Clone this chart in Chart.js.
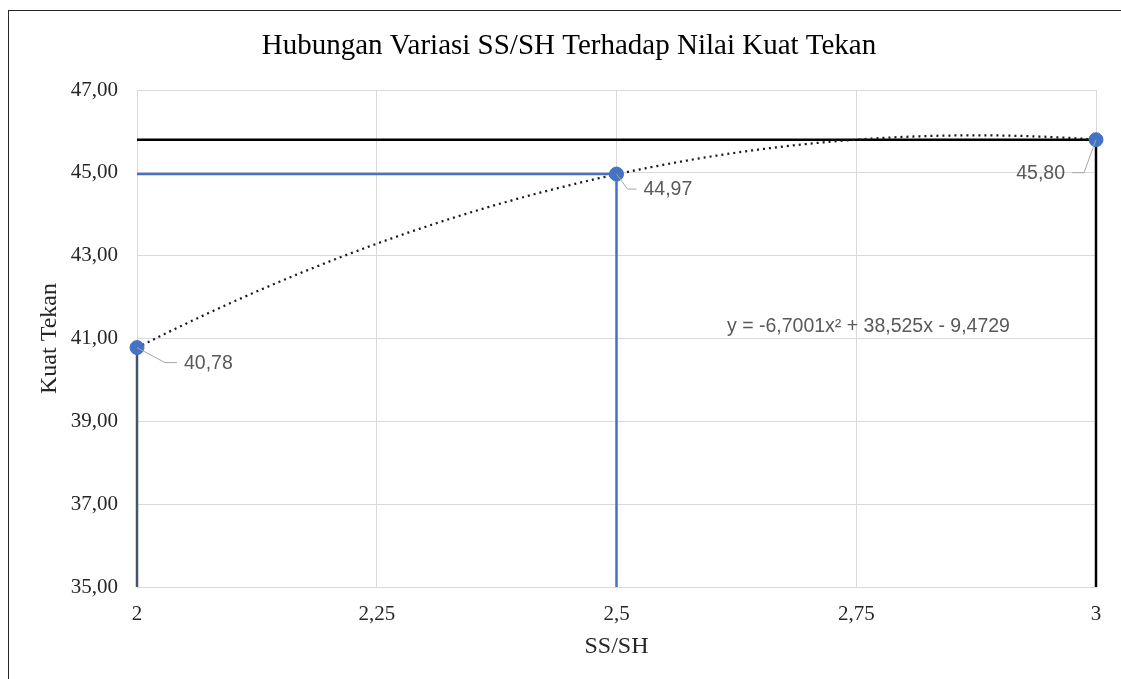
<!DOCTYPE html>
<html>
<head>
<meta charset="utf-8">
<title>Hubungan Variasi SS/SH Terhadap Nilai Kuat Tekan</title>
<script src="https://cdn.jsdelivr.net/npm/chart.js@4"></script>
<style>
  html, body { margin: 0; padding: 0; background: #fff; }
  #wrap { position: relative; width: 1121px; height: 679px; overflow: hidden; }
  /* bingkai chart (hanya kiri & atas yang kelihatan) */
  #frame { position: absolute; left: 8px; top: 10px; width: 1200px; height: 700px;
           border-left: 1px solid #262626; border-top: 1px solid #262626; pointer-events: none; }
  canvas { position: absolute; left: 0; top: 0; }
</style>
</head>
<body>
<div id="wrap">
  <canvas id="chart" width="1121" height="679"></canvas>
  <div id="frame"></div>
</div>
<script>
/* ============================================================
 * Hubungan Variasi SS/SH Terhadap Nilai Kuat Tekan
 * scatter 3 titik + garis bantu + trendline polinomial orde 2
 * ============================================================ */
(function (global) {
  'use strict';

  // ---- data ----
  var SS_SH = [2, 2.5, 3];
  var KUAT_TEKAN = [40.78, 44.97, 45.80];
  var X_TICKS = [2, 2.25, 2.5, 2.75, 3];
  var Y_TICKS = [35, 37, 39, 41, 43, 45, 47];
  var TREND_COEF = [-6.7001, 38.525, -9.4729];   // a, b, c : y = ax² + bx + c
  var TREND_TEXT = 'y = -6,7001x² + 38,525x - 9,4729';
  var TITLE = 'Hubungan Variasi SS/SH Terhadap Nilai Kuat Tekan';

  var Y_MIN = Y_TICKS[0], Y_MAX = Y_TICKS[Y_TICKS.length - 1];

  var COL = {
    point: '#4472c4',
    blue: '#4472c4',
    slate: '#44546a',
    black: '#000000',
    grid: '#d9d9d9',
    label: '#595959',
    leader: '#a6a6a6',
    axis: '#262626',
  };
  var SERIF = '"Liberation Serif", "Times New Roman", serif';
  var SANS = '"Liberation Sans", Arial, sans-serif';

  // posisi label data relatif terhadap titik (px): siku garis penunjuk & sisi teks
  var LABEL_POS = [
    { elbowX: 28, elbowY: 15, endX: 40, side: 'right' },
    { elbowX: 11, elbowY: 15, endX: 20, side: 'right' },
    { elbowX: -12, elbowY: 33, endX: -24, side: 'left' },
  ];

  function comma(v, dec) {
    return (dec == null ? String(v) : v.toFixed(dec)).replace('.', ',');
  }

  // garis bantu dibangun dari titik data
  function pt(x, y) { return { x: x, y: y }; }
  var blackGuide = [pt(SS_SH[0], KUAT_TEKAN[2]), pt(SS_SH[2], KUAT_TEKAN[2]), pt(SS_SH[2], Y_MIN)];
  var blueGuide = [pt(SS_SH[0], KUAT_TEKAN[1]), pt(SS_SH[1], KUAT_TEKAN[1]), pt(SS_SH[1], Y_MIN)];
  var slateGuide = [pt(SS_SH[0], KUAT_TEKAN[0]), pt(SS_SH[0], Y_MIN)];
  var points = SS_SH.map(function (x, i) { return pt(x, KUAT_TEKAN[i]); });

  function guide(data, color, width) {
    return {
      type: 'line', data: data, borderColor: color, borderWidth: width,
      pointRadius: 0, fill: false, tension: 0, clip: false, order: 3,
    };
  }

  /* ---- plugin: judul, trendline, label data, persamaan ---- */
  var extras = {
    id: 'extras',
    beforeDatasetDraw: function (chart, args) {
      if (args.index !== 3) return;   // gambar trendline tepat sebelum marker
      var xs = chart.scales.x, ys = chart.scales.y, ctx = chart.ctx;
      var a = TREND_COEF[0], b = TREND_COEF[1], c = TREND_COEF[2];
      var x0 = SS_SH[0], x1 = SS_SH[SS_SH.length - 1];
      var px0 = xs.getPixelForValue(x0), px1 = xs.getPixelForValue(x1);
      ctx.save();
      ctx.beginPath();
      for (var px = px0; px <= px1 + 0.01; px += 1) {
        var xv = xs.getValueForPixel(px);
        var py = ys.getPixelForValue(a * xv * xv + b * xv + c);
        if (px === px0) ctx.moveTo(px, py); else ctx.lineTo(px, py);
      }
      ctx.setLineDash([2, 4]);
      ctx.lineWidth = 2.25;
      ctx.strokeStyle = '#1a1a1a';
      ctx.stroke();
      ctx.restore();
    },
    afterDraw: function (chart) {
      var xs = chart.scales.x, ys = chart.scales.y, ctx = chart.ctx;
      ctx.save();

      // judul
      ctx.fillStyle = '#000';
      ctx.font = '29px ' + SERIF;
      ctx.textAlign = 'center';
      ctx.textBaseline = 'alphabetic';
      ctx.fillText(TITLE, 569, 54);

      // label data + garis penunjuk
      ctx.font = '19.5px ' + SANS;
      ctx.textBaseline = 'middle';
      points.forEach(function (p, i) {
        var L = LABEL_POS[i];
        var px = xs.getPixelForValue(p.x), py = ys.getPixelForValue(p.y);
        ctx.beginPath();
        ctx.moveTo(px, py);
        ctx.lineTo(px + L.elbowX, py + L.elbowY);
        ctx.lineTo(px + L.endX, py + L.elbowY);
        ctx.strokeStyle = COL.leader;
        ctx.lineWidth = 1;
        ctx.stroke();
        ctx.fillStyle = COL.label;
        ctx.textAlign = L.side === 'right' ? 'left' : 'right';
        ctx.fillText(comma(p.y, 2), px + L.endX + (L.side === 'right' ? 7 : -7), py + L.elbowY + 1);
      });

      // persamaan trendline
      ctx.textAlign = 'left';
      ctx.fillStyle = COL.label;
      ctx.fillText(TREND_TEXT, 727, 327);
      ctx.restore();
    },
  };

  var ctx = document.getElementById('chart').getContext('2d');
  global.chart = new Chart(ctx, {
    type: 'scatter',
    data: {
      datasets: [
        guide(slateGuide, COL.slate, 2.5),
        guide(blueGuide, COL.blue, 2.5),
        guide(blackGuide, COL.black, 2.5),
        {
          type: 'scatter', label: 'Kuat Tekan', data: points,
          backgroundColor: COL.point, borderColor: COL.point,
          pointRadius: 7, pointHoverRadius: 7, clip: false, order: 1,
        },
      ],
    },
    options: {
      responsive: false, animation: false, devicePixelRatio: 1,
      layout: { padding: { top: 90, right: 25, left: 0, bottom: 0 } },
      plugins: { legend: { display: false }, title: { display: false }, tooltip: { enabled: false } },
      scales: {
        x: {
          type: 'linear', min: X_TICKS[0], max: X_TICKS[X_TICKS.length - 1],
          afterBuildTicks: function (s) { s.ticks = X_TICKS.map(function (v) { return { value: v }; }); },
          afterFit: function (s) { s.height = 92; },
          grid: { color: COL.grid, drawTicks: false, lineWidth: 1 },
          border: { color: COL.grid },
          ticks: {
            padding: 15, color: COL.axis, font: { family: SERIF, size: 21 },
            maxRotation: 0, autoSkip: false,
            callback: function (v) { return comma(v); },
          },
          title: { display: true, text: 'SS/SH', color: COL.axis,
                   font: { family: SERIF, size: 24 }, padding: { top: 0, bottom: 18 } },
        },
        y: {
          type: 'linear', min: Y_MIN, max: Y_MAX,
          afterBuildTicks: function (s) { s.ticks = Y_TICKS.map(function (v) { return { value: v }; }); },
          afterFit: function (s) { s.width = 137; },
          grid: { color: COL.grid, drawTicks: false, lineWidth: 1 },
          border: { color: COL.grid },
          ticks: {
            padding: 19, color: COL.axis, font: { family: SERIF, size: 21 },
            callback: function (v) { return comma(v, 2); },
          },
          title: { display: true, text: 'Kuat Tekan', color: COL.axis,
                   font: { family: SERIF, size: 24 }, padding: { top: 35, bottom: 0 } },
        },
      },
    },
    plugins: [extras],
  });
})(window);
</script>
</body>
</html>
